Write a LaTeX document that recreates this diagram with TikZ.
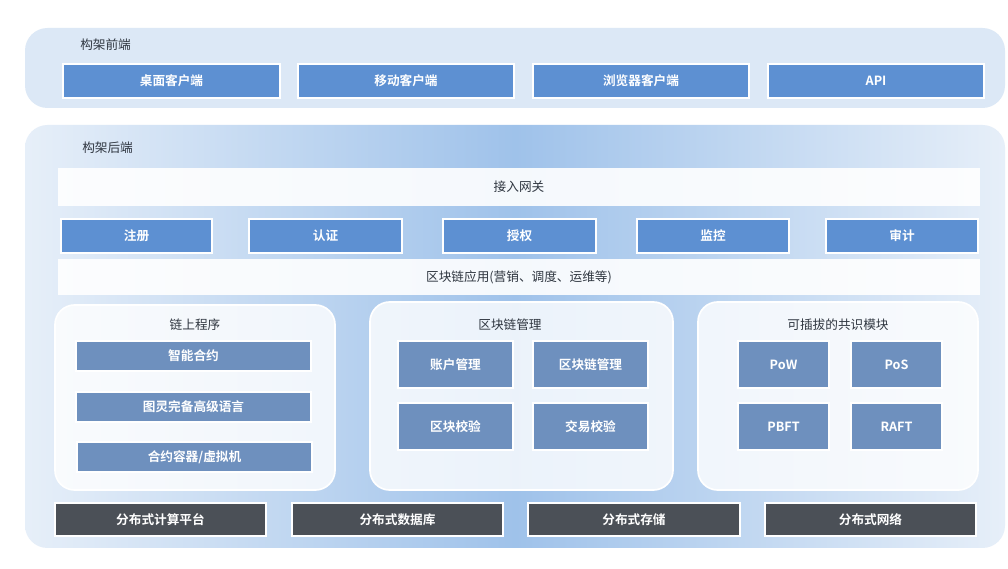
\documentclass[tikz,border=0pt]{standalone}
\usepackage{fontspec}
\setmainfont{Noto Sans CJK SC}[BoldFont={Noto Sans CJK SC Bold}]
\usetikzlibrary{backgrounds}
\definecolor{panelBlue}{HTML}{DCE8F6}
\definecolor{midBlue}{HTML}{9FC2EA}
\definecolor{boxBlue}{HTML}{5D90D2}
\definecolor{steelBlue}{HTML}{6E90BE}
\definecolor{baseGray}{HTML}{4B5057}
\definecolor{titleText}{HTML}{2F3640}

% Block with corners (x1,y1) and (x2,y2) in reference pixels
\newcommand{\blk}[7]{%
  \node[#1, minimum width={(#5-#3)*0.025cm}, minimum height={(#6-#4)*0.025cm}]
    (#2) at ({(#3+#5)/2},{(#4+#6)/2}) {#7};}

\tikzset{
  frontBox/.style={draw=white, line width=1.2pt, fill=boxBlue, text=white, font=\bfseries\small, inner sep=0pt},
  barBox/.style={fill=white, fill opacity=0.9, text opacity=1, text=titleText, font=\small, inner sep=0pt},
  innerBox/.style={draw=white, line width=1pt, fill=steelBlue, text=white, font=\bfseries\small, inner sep=0pt},
  groupBox/.style={draw=white, line width=1.2pt, fill=white, fill opacity=0.8, rounded corners=14pt, inner sep=0pt},
  baseBox/.style={draw=white, line width=1pt, fill=baseGray, text=white, font=\bfseries\small, inner sep=0pt},
  panelLabel/.style={text=titleText, font=\small, anchor=west, inner sep=0pt},
  groupLabel/.style={text=titleText, font=\small, inner sep=0pt}
}

\begin{document}
\begin{tikzpicture}[x=0.025cm, y=-0.025cm]
	\useasboundingbox[fill=white] (0,0) rectangle (1008,569);

    % --- Frontend ---
	\draw[fill=panelBlue, draw=none, rounded corners=16pt] (25,28) rectangle (1005,108);
	\node[panelLabel] (frontLabel) at (80,45) {构架前端};
	\blk{frontBox}{desktop}{63}{64}{280}{98}{桌面客户端}
	\blk{frontBox}{mobile}{298}{64}{514}{98}{移动客户端}
	\blk{frontBox}{browser}{533}{64}{749}{98}{浏览器客户端}
	\blk{frontBox}{api}{768}{64}{984}{98}{API}

    % --- Backend ---
	\shade[left color=panelBlue!70, right color=panelBlue!70, middle color=midBlue, rounded corners=16pt] (25,125) rectangle (1005,548);
	\node[panelLabel] (backLabel) at (82,148) {构架后端};
	\blk{barBox}{gateway}{58}{168}{980}{206}{接入网关}
	\blk{frontBox}{register}{61}{219}{212}{253}{注册}
	\blk{frontBox}{authn}{249}{219}{402}{253}{认证}
	\blk{frontBox}{authz}{443}{219}{596}{253}{授权}
	\blk{frontBox}{monitor}{637}{219}{789}{253}{监控}
	\blk{frontBox}{audit}{826}{219}{978}{253}{审计}
	\blk{barBox}{apps}{58}{259}{980}{295}{区块链应用(营销、调度、运维等)}

    % --- Gruppen ---
	\blk{groupBox}{chainGroup}{55}{305}{335}{490}{}
	\blk{groupBox}{mgmtGroup}{370}{302}{673}{490}{}
	\blk{groupBox}{consGroup}{698}{302}{978}{490}{}
	\node[groupLabel] (chainTitle) at (195,325) {链上程序};
	\node[groupLabel] (mgmtTitle) at (510,325) {区块链管理};
	\node[groupLabel] (consTitle) at (838,325) {可插拔的共识模块};

	\blk{innerBox}{contract}{76}{341}{311}{371}{智能合约}
	\blk{innerBox}{language}{76}{392}{311}{422}{图灵完备高级语言}
	\blk{innerBox}{vm}{77}{442}{312}{472}{合约容器/虚拟机}

	\blk{innerBox}{account}{398}{341}{513}{388}{账户管理}
	\blk{innerBox}{chainMgmt}{533}{341}{648}{388}{区块链管理}
	\blk{innerBox}{blockCheck}{398}{403}{513}{450}{区块校验}
	\blk{innerBox}{txCheck}{533}{403}{648}{450}{交易校验}

	\blk{innerBox}{pow}{738}{341}{829}{388}{PoW}
	\blk{innerBox}{pos}{851}{341}{942}{388}{PoS}
	\blk{innerBox}{pbft}{738}{403}{829}{450}{PBFT}
	\blk{innerBox}{raft}{851}{403}{942}{450}{RAFT}

    % --- Basis ---
	\blk{baseBox}{compute}{55}{503}{266}{536}{分布式计算平台}
	\blk{baseBox}{database}{292}{503}{503}{536}{分布式数据库}
	\blk{baseBox}{storage}{528}{503}{740}{536}{分布式存储}
	\blk{baseBox}{network}{765}{503}{976}{536}{分布式网络}
\end{tikzpicture}
\end{document}
